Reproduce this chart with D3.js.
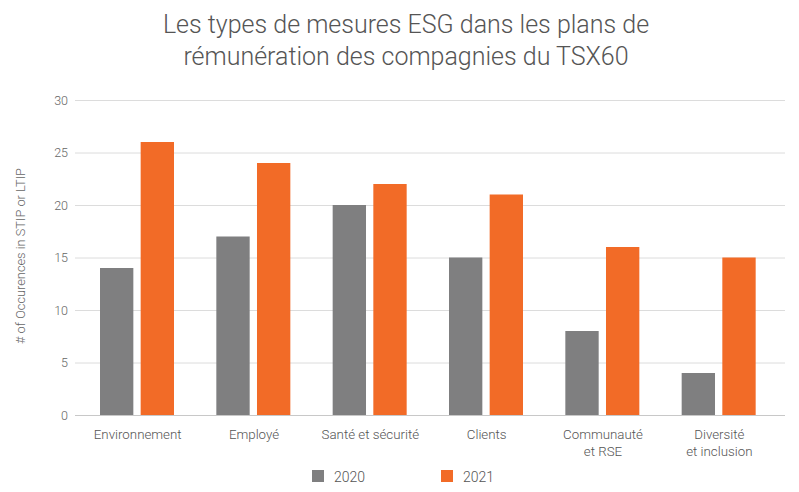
<!DOCTYPE html>
<html><head><meta charset="utf-8">
<script src="https://cdn.jsdelivr.net/npm/d3@7"></script>
<style>body{margin:0;background:#fff;} svg{display:block;}</style>
</head><body><svg id="c" width="799" height="492"></svg>
<script>
const categories = [["Environnement"],["Employé"],["Santé et sécurité"],["Clients"],["Communauté","et RSE"],["Diversité","et inclusion"]];
const series = ["2020","2021"];
const values2020 = [14,17,20,15,8,4];
const values2021 = [26,24,22,21,16,15];
const yTicks = [0,5,10,15,20,25,30];
const titleLines = ["Les types de mesures ESG dans les plans de","rémunération des compagnies du TSX60"];
const yLabel = "# of Occurences in STIP or LTIP";
const colors = ["#7f7f80","#f26b27"];

const svg = d3.select("#c");
const font = "Roboto, 'DejaVu Sans', sans-serif";
const x0 = d3.scaleBand().domain(d3.range(categories.length)).range([79,777]).paddingInner(0).paddingOuter(0);
const y = d3.scaleLinear().domain([0,30]).range([415,100]);
const x1 = d3.scaleBand().domain(series).range([21,95]).paddingInner(0.18);

svg.selectAll(".title").data(titleLines).join("text")
  .attr("x",406).attr("y",(d,i)=>33+i*32).attr("text-anchor","middle")
  .attr("font-family",font).attr("font-weight",300).attr("font-size",25).attr("fill","#555")
  .text(d=>d);

svg.selectAll(".grid").data(yTicks).join("line")
  .attr("x1",75).attr("x2",785).attr("y1",d=>y(d)+0.5).attr("y2",d=>y(d)+0.5)
  .attr("stroke",(d)=>d===0?"#c8c8c8":"#dcdcdc").attr("stroke-width",1);

const yAxis = svg.append("g").attr("transform","translate(75,0)")
  .call(d3.axisLeft(y).tickValues(yTicks).tickSize(0).tickPadding(7));
yAxis.select(".domain").remove();
yAxis.selectAll("text").attr("font-family",font).attr("font-size",12.5).attr("fill","#666").attr("font-weight",300);

svg.append("text").attr("transform","translate(25,256) rotate(-90)").attr("text-anchor","middle")
  .attr("font-family",font).attr("font-size",12.8).attr("fill","#666").attr("font-weight",300).text(yLabel);

const data = categories.map((c,i)=>({i, vals:[values2020[i],values2021[i]]}));
const g = svg.selectAll(".grp").data(data).join("g").attr("transform",d=>`translate(${x0(d.i)},0)`);
g.selectAll("rect").data(d=>d.vals.map((v,k)=>({k,v}))).join("rect")
  .attr("x",d=>x1(series[d.k])).attr("width",x1.bandwidth())
  .attr("y",d=>y(d.v)).attr("height",d=>y(0)-y(d.v)).attr("fill",d=>colors[d.k]);

const xl = svg.selectAll(".xl").data(categories).join("text")
  .attr("text-anchor","middle").attr("font-family",font).attr("font-size",13.3).attr("fill","#555").attr("font-weight",300)
  .attr("transform",(d,i)=>`translate(${x0(i)+x0.bandwidth()/2+0.5},439)`);
xl.selectAll("tspan").data(d=>d).join("tspan").attr("x",0).attr("dy",(d,i)=>i?17:0).text(d=>d);

const leg = svg.selectAll(".leg").data(series).join("g").attr("transform",(d,i)=>`translate(${312+i*129},470)`);
leg.append("rect").attr("width",12).attr("height",12).attr("fill",(d,i)=>colors[i]);
leg.append("text").attr("x",22).attr("y",11.5).attr("font-family",font).attr("font-size",14).attr("fill","#555").attr("font-weight",300).text(d=>d);
</script></body></html>
